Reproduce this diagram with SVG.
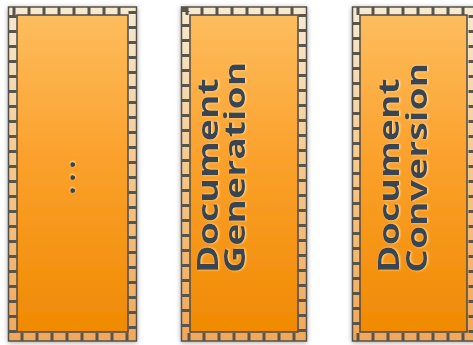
<svg xmlns="http://www.w3.org/2000/svg" width="473" height="345" viewBox="0 0 473 345">
  <defs>
    <linearGradient id="bodyFill" x1="0" y1="0" x2="0" y2="1">
      <stop offset="0" stop-color="#fdbd5e"/>
      <stop offset="0.45" stop-color="#fba12c"/>
      <stop offset="1" stop-color="#f08a02"/>
    </linearGradient>
    <linearGradient id="bandFill" x1="0" y1="0" x2="0" y2="1">
      <stop offset="0" stop-color="#f6ead2"/>
      <stop offset="0.5" stop-color="#f4c78a"/>
      <stop offset="1" stop-color="#f0a85a"/>
    </linearGradient>
    <filter id="boxShadow" x="-10%" y="-5%" width="120%" height="110%">
      <feGaussianBlur in="SourceAlpha" stdDeviation="2.5"/>
      <feOffset dx="0" dy="1" result="blur"/>
      <feComponentTransfer><feFuncA type="linear" slope="0.35"/></feComponentTransfer>
      <feMerge><feMergeNode/><feMergeNode in="SourceGraphic"/></feMerge>
    </filter>
    <filter id="emboss" x="-10%" y="-10%" width="120%" height="120%">
      <feGaussianBlur in="SourceAlpha" stdDeviation="1.2"/>
      <feOffset dx="1" dy="0" result="o"/>
      <feFlood flood-color="#fff2c0" flood-opacity="0.8"/>
      <feComposite in2="o" operator="in"/>
      <feMerge><feMergeNode/><feMergeNode in="SourceGraphic"/></feMerge>
    </filter>
  </defs>
  <style>
    .frame { fill: url(#bandFill); stroke: #55504a; stroke-width: 1.5; }
    .ticks { fill: none; stroke: #5a544c; stroke-width: 8; stroke-dasharray: 3 12; }
    .body { fill: url(#bodyFill); stroke: #4d4a46; stroke-width: 1.5; }
    .label { font-family: "Open Sans", "DejaVu Sans", sans-serif; font-weight: 700; font-size: 28px; fill: #3b4451; }
  </style>
  <rect width="473" height="345" fill="#ffffff"/>

  <g id="node-more" filter="url(#boxShadow)">
    <rect class="frame" x="8.5" y="7" width="128" height="334"/>
    <rect class="ticks" x="12.5" y="11" width="120" height="326"/>
    <rect class="body" x="17" y="15" width="111" height="317"/>
    <text class="label" filter="url(#emboss)" text-anchor="middle" letter-spacing="5" font-size="32" transform="translate(75,175) rotate(-90)">...</text>
  </g>

  <g id="node-generation" filter="url(#boxShadow)">
    <rect class="frame" x="181.5" y="7" width="125" height="334"/>
    <rect class="ticks" x="185.5" y="11" width="117" height="326"/>
    <rect class="body" x="190" y="15" width="108" height="317"/>
    <g filter="url(#emboss)">
      <text class="label" transform="translate(218,273) rotate(-90) scale(1.34,1)">Document</text>
      <text class="label" transform="translate(245,273) rotate(-90) scale(1.34,1)">Generation</text>
    </g>
  </g>

  <g id="node-conversion" filter="url(#boxShadow)">
    <rect class="frame" x="352.5" y="7" width="124" height="334"/>
    <rect class="ticks" x="356.5" y="11" width="116" height="326"/>
    <rect class="body" x="360" y="15" width="107" height="317"/>
    <g filter="url(#emboss)">
      <text class="label" transform="translate(399,273) rotate(-90) scale(1.34,1)">Document</text>
      <text class="label" transform="translate(427,273) rotate(-90) scale(1.34,1)">Conversion</text>
    </g>
  </g>

  <g id="connectors"/>
</svg>
